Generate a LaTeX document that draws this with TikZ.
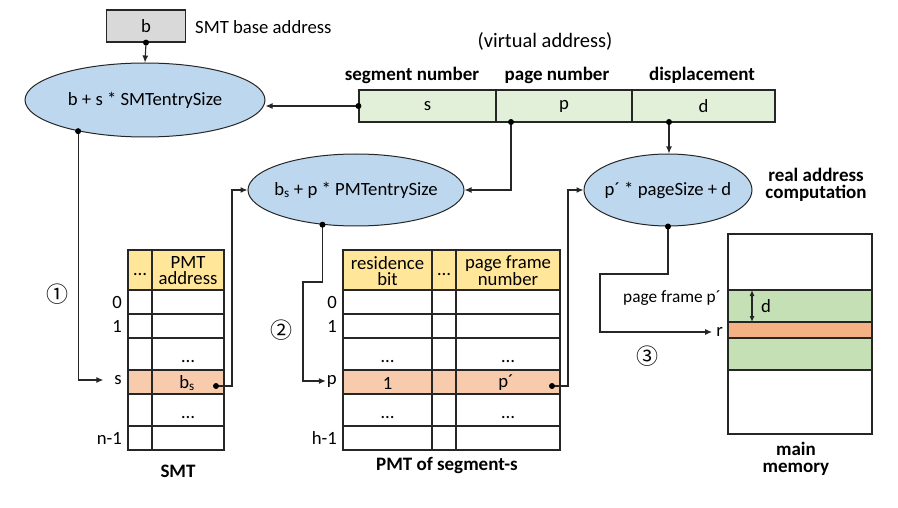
\documentclass[tikz,border=0pt]{standalone}
\usepackage{fontspec}
\setmainfont{Carlito}
\newfontfamily\symfont{Noto Sans CJK JP}
\usetikzlibrary{shapes.geometric,arrows.meta}
\definecolor{ellblue}{HTML}{BDD7EE}
\definecolor{hdryel}{HTML}{FFE699}
\definecolor{rowor}{HTML}{F8CBAD}
\definecolor{memor}{HTML}{F4B183}
\definecolor{memgr}{HTML}{C5E0B4}
\definecolor{vagr}{HTML}{E2F0D9}
\definecolor{boxgr}{HTML}{D9D9D9}
\definecolor{lin}{HTML}{262626}
\begin{document}
\begin{tikzpicture}[x=1pt,y=-1pt,
  font=\fontsize{18.7}{19}\selectfont,
  lw/.style={line width=1.1pt,draw=lin},
  arr/.style={lw,-{Latex[length=7pt,width=6pt]}},
  dbarr/.style={lw,{Latex[length=6pt,width=5pt]}-{Latex[length=6pt,width=5pt]}},
  dotc/.style={circle,fill=black,inner sep=0,minimum size=6pt},
  ell/.style={ellipse,draw=lin,fill=ellblue,line width=1pt,inner sep=0},
  vabox/.style={rectangle,draw=lin,fill=vagr,line width=1.1pt,minimum height=32pt,inner sep=0},
  tbl/.style={line width=1.3pt,draw=lin},
  bold/.style={font=\fontsize{19}{16.5}\selectfont\bfseries,align=center},
  rowlab/.style={anchor=east,inner sep=0},
  circnum/.style={font=\symfont\fontsize{22}{22}\selectfont,inner sep=0},
  hdrtxt/.style={align=center,font=\fontsize{18.7}{16}\selectfont,inner sep=0},
  elips/.style={anchor=base,inner sep=0}
]
\useasboundingbox (0,0) rectangle (898,508);

% base address
\node[rectangle,draw=lin,fill=boxgr,line width=1.1pt,minimum width=79pt,minimum height=32pt,inner sep=0] (b) at (146,26) {b};
\node[anchor=west,inner sep=0] (bl) at (195,27) {SMT base address};

% ellipses
\node[ell,minimum width=240pt,minimum height=74pt] (e1) at (145,100) {\makebox[0pt]{b + s * SMTentrySize}};
\node[ell,minimum width=216pt,minimum height=72pt] (e2) at (356,190) {\makebox[0pt]{b\textsubscript{s} + p * PMTentrySize}};
\node[ell,minimum width=168pt,minimum height=72pt] (e3) at (668,190) {\makebox[0pt]{p\textasciiacute{} * pageSize + d}};

% virtual address
\node[inner sep=0,font=\fontsize{20.5}{21}\selectfont] (vt) at (545,41) {(virtual address)};
\node[vabox,minimum width=137pt] (vas) at (427.5,106) {s};
\node[vabox,minimum width=136pt] (vap) at (564,106) {p};
\node[vabox,minimum width=143pt] (vad) at (703.5,106) {d};
\node[bold,inner sep=0] (ls) at (412,75) {segment number};
\node[bold,inner sep=0] (lp) at (557,75) {page number};
\node[bold,inner sep=0] (ld) at (702,75) {displacement};
\node[bold,inner sep=0] (lr) at (816,185) {real address\\computation};

% SMT table
\fill[hdryel] (128,250) rectangle (224,290);
\fill[rowor] (128,370) rectangle (224,394);
\draw[tbl] (128,250) rectangle (224,450);
\foreach \yy in {290,314,338,370,394,426} \draw[tbl] (128,\yy) -- (224,\yy);
\draw[tbl] (152,250) -- (152,450);
\node[elips] (sh1) at (140,276) {…};
\node[hdrtxt] (sh2) at (188,271) {PMT\\address};
\node[elips] (sd1) at (188,362) {…};
\node[elips] (sd2) at (188,418) {…};
\node[inner sep=0] (bs) at (187,383) {b\textsubscript{s}};
\node[rowlab] (s0) at (122,302) {0};
\node[rowlab] (s1) at (122,326) {1};
\node[rowlab] (ss) at (122,380) {s};
\node[rowlab] (sn) at (122,438) {n-1};
\node[bold,inner sep=0] (smt) at (178,471) {SMT};

% PMT table
\fill[hdryel] (343,250) rectangle (560,290);
\fill[rowor] (343,370) rectangle (560,394);
\draw[tbl] (343,250) rectangle (560,450);
\foreach \yy in {290,314,338,370,394,426} \draw[tbl] (343,\yy) -- (560,\yy);
\draw[tbl] (432,250) -- (432,450);
\draw[tbl] (456,250) -- (456,450);
\node[hdrtxt] (ph1) at (387.5,271) {residence\\bit};
\node[elips] (ph2) at (444,276) {…};
\node[hdrtxt] (ph3) at (508,271) {page frame\\number};
\node[elips] (pd1) at (387.5,362) {…};
\node[elips] (pd2) at (508,362) {…};
\node[elips] (pd3) at (387.5,418) {…};
\node[elips] (pd4) at (508,418) {…};
\node[inner sep=0] (one) at (387.5,383) {1};
\node[inner sep=0] (pp) at (506,383) {p\textasciiacute};
\node[rowlab] (p0) at (337,302) {0};
\node[rowlab] (p1) at (337,326) {1};
\node[rowlab] (ppl) at (337,381) {p};
\node[rowlab] (ph) at (337,438) {h-1};
\node[bold,inner sep=0] (pmt) at (447,466) {PMT of segment-s};

% main memory
\fill[memgr] (728,290) rectangle (872,370);
\fill[memor] (728,322) rectangle (872,338);
\draw[tbl] (728,234) rectangle (872,434);
\foreach \yy in {290,322,338,370} \draw[tbl] (728,\yy) -- (872,\yy);
\coordinate (dtop) at (752,290);
\coordinate (dbot) at (752,322);
\draw[dbarr] (dtop) -- (dbot);
\node[anchor=west,inner sep=0] (dl) at (761,306) {d};
\node[anchor=east,inner sep=0,font=\fontsize{17.3}{18}\selectfont] (pf) at (721,298) {page frame p\textasciiacute};
\node[rowlab] (rl) at (723,332) {r};
\node[bold,inner sep=0] (mm) at (796,459) {main\\memory};

% circled numbers
\node[circnum] (c1) at (57,294) {①};
\node[circnum] (c2) at (281,330) {②};
\node[circnum] (c3) at (647,356) {③};

% dots
\coordinate (bdot) at (b.south);
\coordinate (sdot) at (vas.west);
\coordinate (pdot) at (511,122);
\coordinate (ddot) at (669,122);
\coordinate (e1dot) at (e1.205.5);
\coordinate (e2dot) at (e2.226);
\coordinate (e3dot) at (e3.south);
\coordinate (bsdot) at (216,386);
\coordinate (ppdot) at (552,386);

% connectors
\draw[arr] (bdot) -- (e1.north);
\draw[arr] (sdot) -- (e1.east |- sdot);
\draw[arr] (pdot) |- (e2.east);
\draw[arr] (ddot) -- (ddot |- e3.north);
\draw[arr] (e1dot) |- ([xshift=-11pt]ss.west);
\draw[arr] (bsdot) -- ++(16,0) |- (e2.west);
\draw[arr] (e2dot) |- (303,282) |- ([xshift=-1pt]ppl.west);
\draw[arr] (ppdot) -- ++(16,0) |- (e3.west);
\draw[arr] (e3dot) |- (600,274) |- ([xshift=-4pt]rl.west);

\foreach \c in {bdot,sdot,pdot,ddot,e1dot,e2dot,e3dot,bsdot,ppdot}
  \node[dotc] at (\c) {};
\end{tikzpicture}
\end{document}
